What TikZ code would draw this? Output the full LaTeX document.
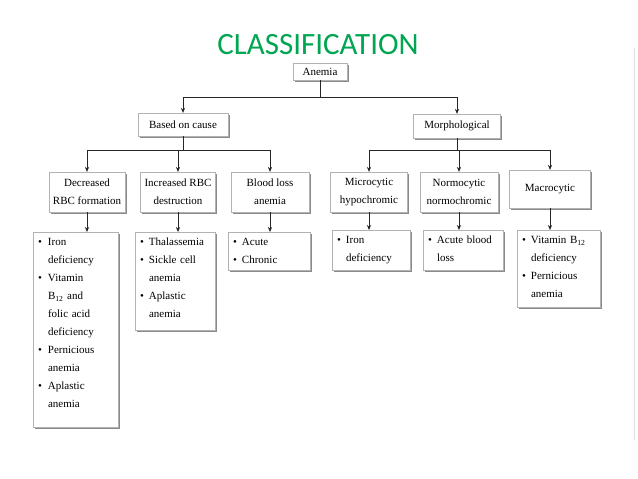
\documentclass[tikz,border=0pt]{standalone}
\usepackage{fontspec}
\setmainfont{Liberation Serif}
\newfontfamily\titlefont{Carlito}
\usetikzlibrary{shadows,arrows.meta}
\definecolor{titlegreen}{RGB}{0,166,81}
\tikzset{
  box/.style={draw=black!30, line width=0.3pt, fill=white,
    drop shadow={opacity=0.65, shadow xshift=1.6pt, shadow yshift=-1.8pt, fill=black!70},
    font=\fontsize{11}{17.7}\selectfont, inner sep=2pt, align=center},
  listbox/.style={box, font=\fontsize{11}{18}\selectfont, align=left, inner xsep=5pt, inner ysep=1pt},
  conn/.style={draw=black!85, line width=0.7pt},
  arr/.style={conn, -{Stealth[length=5pt,width=4.2pt]}},
}
\newcommand{\bl}{\textbullet}
\begin{document}
\begin{tikzpicture}[x=1pt,y=-1pt]
\fill[white] (0,0) rectangle (638,479);
\useasboundingbox (0,0) rectangle (638,479);
\draw[black!12, line width=0.8pt] (634,48) -- (634,440);

\node[text=titlegreen, font=\titlefont\fontsize{31}{31}\selectfont, inner sep=0pt] (title) at (318,45) {CLASSIFICATION};

\node[box, minimum width=54pt, minimum height=17pt] (anemia) at (320,71.5) {Anemia};
\node[box, minimum width=90pt, minimum height=23pt] (based) at (183,124.5) {Based on cause};
\node[box, minimum width=87pt, minimum height=24pt] (morph) at (457,126) {Morphological};

\node[box, minimum width=76pt, minimum height=40pt] (dec) at (87,192) {Decreased\\RBC formation};
\node[box, minimum width=75pt, minimum height=40pt] (inc) at (178,192) {Increased RBC\\destruction};
\node[box, minimum width=78pt, minimum height=40pt] (blood) at (270,192) {Blood loss\\anemia};
\node[box, minimum width=77pt, minimum height=40pt] (micro) at (369,192) {Microcytic\\hypochromic};
\node[box, minimum width=78pt, minimum height=40pt] (normo) at (459,192) {Normocytic\\normochromic};
\node[box, minimum width=81pt, minimum height=38pt] (macro) at (550,189) {Macrocytic};

\node[listbox, text width=75pt, anchor=north west] (l1) at (33,232) {\noindent
\begin{tabular}{@{}l@{\hspace{6pt}}l@{}}
\bl & Iron\\ & deficiency\\ \bl & Vitamin\\ & B\textsubscript{12} and\\ & folic acid\\ & deficiency\\ \bl & Pernicious\\ & anemia\\ \bl & Aplastic\\ & anemia\\[13pt]
\end{tabular}};
\node[listbox, text width=70pt, anchor=north west] (l2) at (135,232) {\noindent
\begin{tabular}{@{}l@{\hspace{5pt}}l@{}}
\bl & Thalassemia\\ \bl & Sickle cell\\ & anemia\\ \bl & Aplastic\\ & anemia\\[6pt]
\end{tabular}};
\node[listbox, text width=72pt, anchor=north west] (l3) at (228,232) {\noindent
\begin{tabular}{@{}l@{\hspace{5pt}}l@{}}
\bl & Acute\\ \bl & Chronic
\end{tabular}};
\node[listbox, text width=68pt, anchor=north west] (l4) at (332,230) {\noindent
\begin{tabular}{@{}l@{\hspace{5pt}}l@{}}
\bl & Iron\\ & deficiency\\[2pt]
\end{tabular}};
\node[listbox, text width=70pt, anchor=north west] (l5) at (423,230) {\noindent
\begin{tabular}{@{}l@{\hspace{5pt}}l@{}}
\bl & Acute blood\\ & loss\\[2pt]
\end{tabular}};
\node[listbox, text width=73pt, anchor=north west] (l6) at (517,230) {\noindent
\begin{tabular}{@{}l@{\hspace{5pt}}l@{}}
\bl & Vitamin B\textsubscript{12}\\ & deficiency\\ \bl & Pernicious\\ & anemia\\[3pt]
\end{tabular}};

\coordinate (j1) at (320,97);
\coordinate (j2) at (183,150);
\coordinate (j3) at (457,150);

\draw[conn] (anemia.south) -- (j1);
\draw[arr] (j1) -| (based.north);
\draw[arr] (j1) -| (morph.north);

\draw[conn] (based.south) -- (j2);
\draw[arr] (j2) -| (dec.north);
\draw[arr] (j2) -| (inc.north);
\draw[arr] (j2) -| (blood.north);

\draw[conn] (morph.south) -- (j3);
\draw[arr] (j3) -| (micro.north);
\draw[arr] (j3) -| (normo.north);
\draw[arr] (j3) -| (macro.north);

\draw[arr] (dec.south) -- (dec.south |- l1.north);
\draw[arr] (inc.south) -- (inc.south |- l2.north);
\draw[arr] (blood.south) -- (blood.south |- l3.north);
\draw[arr] (micro.south) -- (micro.south |- l4.north);
\draw[arr] (normo.south) -- (normo.south |- l5.north);
\draw[arr] (macro.south) -- (macro.south |- l6.north);
\end{tikzpicture}
\end{document}
